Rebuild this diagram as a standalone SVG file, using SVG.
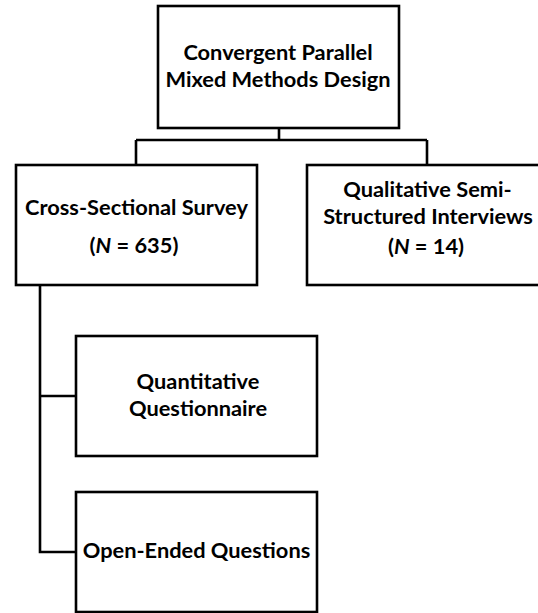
<svg xmlns="http://www.w3.org/2000/svg" width="538" height="613" viewBox="0 0 538 613">
<style>
.box{fill:#fff;stroke:#000;stroke-width:2.6}
.con{fill:none;stroke:#000;stroke-width:2.6}
text{font-family:Lato,"Open Sans","Liberation Sans",sans-serif;font-weight:bold;font-size:21.8px;fill:#000;text-anchor:middle}
</style>
<rect width="538" height="613" fill="#fff"/>
<g id="connectors">
<path class="con" d="M279 128V140M136 140H427M136 140V165M427 140V165"/>
<path class="con" d="M40 285V552H76M40 396H76"/>
</g>
<g id="design">
<rect class="box" x="158" y="6" width="241" height="122"/>
<text x="278" y="60">Convergent Parallel</text>
<text x="278" y="87">Mixed Methods Design</text>
</g>
<g id="survey">
<rect class="box" x="16" y="165" width="241" height="120"/>
<text x="136.5" y="215">Cross-Sectional Survey</text>
<text x="134" y="253">(<tspan font-style="italic">N</tspan> = 635)</text>
</g>
<g id="interviews">
<rect class="box" x="307" y="165" width="241" height="120"/>
<text x="427.5" y="197">Qualitative Semi-</text>
<text x="428" y="224">Structured Interviews</text>
<text x="426" y="254">(<tspan font-style="italic">N</tspan> = 14)</text>
</g>
<g id="questionnaire">
<rect class="box" x="76" y="336" width="241" height="120"/>
<text x="198" y="389">Quantitative</text>
<text x="198" y="416">Questionnaire</text>
</g>
<g id="openended">
<rect class="box" x="76" y="492" width="241" height="120"/>
<text x="196.5" y="558">Open-Ended Questions</text>
</g>
</svg>
